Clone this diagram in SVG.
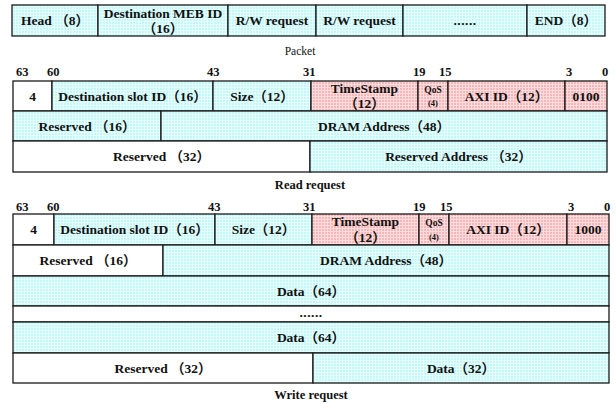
<svg xmlns="http://www.w3.org/2000/svg" width="616" height="403" viewBox="0 0 616 403">
  <defs>
    <!-- halftone-like screen for the coloured fields -->
    <pattern id="cyanScreen" width="3" height="3" patternUnits="userSpaceOnUse">
      <rect width="3" height="3" fill="#c4f8f8"/>
      <rect width="3" height="1" fill="#e6fefe"/>
      <rect width="1" height="3" fill="#e6fefe"/>
    </pattern>
    <pattern id="pinkScreen" width="3" height="3" patternUnits="userSpaceOnUse">
      <rect width="3" height="3" fill="#f5b7b9"/>
      <rect width="3" height="1" fill="#fcdcdc"/>
      <rect width="1" height="3" fill="#fcdcdc"/>
    </pattern>
  </defs>
  <style>
    rect.f { stroke: #1a1a1a; stroke-width: 1.3; }
    .cy { fill: url(#cyanScreen); }
    .pk { fill: url(#pinkScreen); }
    .wh { fill: #ffffff; }
    text { font-family: "Liberation Serif", "Noto Sans CJK SC", serif; fill: #111; }
    .lb { font-size: 13.5px; font-weight: bold; text-anchor: middle; }
    .bit { font-size: 12.5px; font-weight: bold; }
    .sm { font-size: 9.5px; font-weight: bold; text-anchor: middle; }
    .cap { font-size: 11.5px; text-anchor: middle; }
    .capb { font-size: 12.5px; font-weight: bold; text-anchor: middle; }
    .dots { font-size: 13.5px; font-weight: bold; text-anchor: middle; letter-spacing: 0.5px; }
  </style>

  <rect width="616" height="403" fill="#ffffff"/>

  <!-- Packet -->
  <g id="packet">
    <g id="pk-head"><rect class="f cy" x="12" y="5" width="86" height="31"/><text class="lb" x="55" y="25">Head （8）</text></g>
    <g id="pk-dest"><rect class="f cy" x="98" y="5" width="130" height="31"/><text class="lb" x="163" y="18">Destination MEB ID</text><text class="lb" x="163" y="33">（16）</text></g>
    <g id="pk-rw1"><rect class="f cy" x="228" y="5" width="88" height="31"/><text class="lb" x="272" y="25">R/W request</text></g>
    <g id="pk-rw2"><rect class="f cy" x="316" y="5" width="87" height="31"/><text class="lb" x="359.5" y="25">R/W request</text></g>
    <g id="pk-more"><rect class="f cy" x="403" y="5" width="124" height="31"/><text class="dots" x="465" y="25">......</text></g>
    <g id="pk-end"><rect class="f cy" x="527" y="5" width="78" height="31"/><text class="lb" x="566" y="25">END（8）</text></g>
    <text class="cap" x="300" y="55">Packet</text>
  </g>

  <!-- Read request -->
  <g id="read">
    <g id="rd-bits">
      <text class="bit" x="16" y="76">63</text>
      <text class="bit" x="47" y="76">60</text>
      <text class="bit" x="207" y="76">43</text>
      <text class="bit" x="303" y="76">31</text>
      <text class="bit" x="413" y="76">19</text>
      <text class="bit" x="439" y="76">15</text>
      <text class="bit" x="566" y="76">3</text>
      <text class="bit" x="602" y="76">0</text>
    </g>
    <g id="rd-four"><rect class="f wh" x="13" y="81" width="39" height="30"/><text class="lb" x="32.5" y="101">4</text></g>
    <g id="rd-slot"><rect class="f cy" x="52" y="81" width="161" height="30"/><text class="lb" x="132.5" y="101">Destination slot ID（16）</text></g>
    <g id="rd-size"><rect class="f cy" x="213" y="81" width="98" height="30"/><text class="lb" x="262" y="101">Size（12）</text></g>
    <g id="rd-ts"><rect class="f pk" x="311" y="81" width="107" height="30"/><text class="lb" x="364.5" y="93">TimeStamp</text><text class="lb" x="364.5" y="108">（12）</text></g>
    <g id="rd-qos"><rect class="f pk" x="418" y="81" width="30" height="30"/><text class="sm" x="433" y="93">QoS</text><text class="sm" x="433" y="106" style="font-size:8.5px">(4)</text></g>
    <g id="rd-axi"><rect class="f pk" x="448" y="81" width="117" height="30"/><text class="lb" x="506.5" y="101">AXI ID（12）</text></g>
    <g id="rd-op"><rect class="f pk" x="565" y="81" width="42" height="30"/><text class="lb" x="586" y="101">0100</text></g>
    <g id="rd-res16"><rect class="f cy" x="13" y="111" width="148" height="30"/><text class="lb" x="87" y="131">Reserved （16）</text></g>
    <g id="rd-dram"><rect class="f cy" x="161" y="111" width="446" height="30"/><text class="lb" x="384" y="131">DRAM Address（48）</text></g>
    <g id="rd-res32"><rect class="f wh" x="13" y="141" width="297" height="31"/><text class="lb" x="161.5" y="161">Reserved （32）</text></g>
    <g id="rd-resaddr"><rect class="f cy" x="310" y="141" width="297" height="31"/><text class="lb" x="458.5" y="161">Reserved Address （32）</text></g>
    <text class="capb" x="310" y="189">Read request</text>
  </g>

  <!-- Write request -->
  <g id="write">
    <g id="wr-bits">
      <text class="bit" x="16" y="211">63</text>
      <text class="bit" x="47" y="211">60</text>
      <text class="bit" x="208" y="211">43</text>
      <text class="bit" x="303" y="211">31</text>
      <text class="bit" x="413" y="211">19</text>
      <text class="bit" x="440" y="211">15</text>
      <text class="bit" x="568" y="211">3</text>
      <text class="bit" x="604" y="211">0</text>
    </g>
    <g id="wr-four"><rect class="f wh" x="13" y="214" width="41" height="31"/><text class="lb" x="33.5" y="234">4</text></g>
    <g id="wr-slot"><rect class="f cy" x="54" y="214" width="161" height="31"/><text class="lb" x="134.5" y="234">Destination slot ID（16）</text></g>
    <g id="wr-size"><rect class="f cy" x="215" y="214" width="97" height="31"/><text class="lb" x="263.5" y="234">Size（12）</text></g>
    <g id="wr-ts"><rect class="f pk" x="312" y="214" width="107" height="31"/><text class="lb" x="365.5" y="226">TimeStamp</text><text class="lb" x="365.5" y="242">（12）</text></g>
    <g id="wr-qos"><rect class="f pk" x="419" y="214" width="30" height="31"/><text class="sm" x="434" y="226">QoS</text><text class="sm" x="434" y="240" style="font-size:8.5px">(4)</text></g>
    <g id="wr-axi"><rect class="f pk" x="449" y="214" width="118" height="31"/><text class="lb" x="508" y="234">AXI ID（12）</text></g>
    <g id="wr-op"><rect class="f pk" x="567" y="214" width="42" height="31"/><text class="lb" x="588" y="234">1000</text></g>
    <g id="wr-res16"><rect class="f wh" x="13" y="245" width="150" height="31"/><text class="lb" x="88" y="265">Reserved （16）</text></g>
    <g id="wr-dram"><rect class="f cy" x="163" y="245" width="446" height="31"/><text class="lb" x="386" y="265">DRAM Address（48）</text></g>
    <g id="wr-data1"><rect class="f cy" x="13" y="276" width="596" height="30"/><text class="lb" x="311" y="296">Data（64）</text></g>
    <g id="wr-more"><rect class="f wh" x="13" y="306" width="596" height="16"/><text class="dots" x="311" y="317">......</text></g>
    <g id="wr-data2"><rect class="f cy" x="13" y="322" width="596" height="31"/><text class="lb" x="311" y="342">Data（64）</text></g>
    <g id="wr-res32"><rect class="f wh" x="13" y="353" width="300" height="30"/><text class="lb" x="163" y="373">Reserved （32）</text></g>
    <g id="wr-data32"><rect class="f cy" x="313" y="353" width="296" height="30"/><text class="lb" x="461" y="373">Data（32）</text></g>
    <text class="capb" x="311" y="399">Write request</text>
  </g>
</svg>
